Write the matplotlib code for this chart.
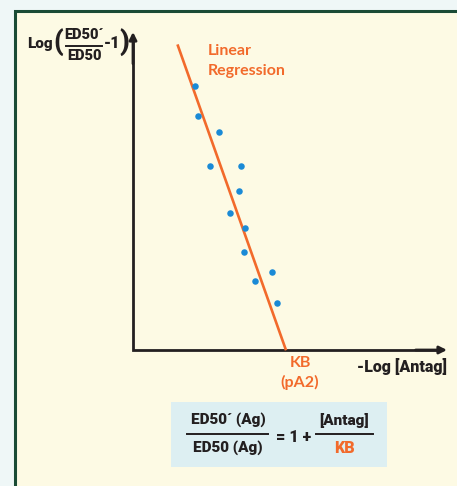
import matplotlib
matplotlib.use("Agg")
import matplotlib.pyplot as plt
from matplotlib.patches import Rectangle
from matplotlib.lines import Line2D

# data (x = -Log[Antag], y = Log(ED50'/ED50 - 1))
pts_x = [1.98, 2.08, 2.74, 2.44, 3.44, 3.39, 3.09, 3.58, 3.53, 4.42, 3.89, 4.58]
pts_y = [8.30, 7.35, 6.86, 5.78, 5.78, 5.00, 4.30, 3.83, 3.08, 2.44, 2.18, 1.48]
fit_x = [1.43, 4.86]
fit_y = [9.57, 0.03]

ORANGE = "#f26a2b"
BLUE = "#1a8ad6"
INK = "#231f20"
NARROW = ["Roboto", "DejaVu Sans"]
W, H = 457, 486

fig = plt.figure(figsize=(W / 100, H / 100), dpi=100, facecolor="#eff7f7")


def px(x, y):
    return x / W, 1 - y / H


# cream panel with green frame
fig.patches.append(Rectangle(px(14.5, 520), 480 / W, 509 / H, transform=fig.transFigure,
                             facecolor="#fdfae4", edgecolor="#1a4b35", lw=2.2, zorder=-5))

l, b = px(133, 350)
ax = fig.add_axes([l, b, (447 - 133) / W, (350 - 32) / H])
ax.set_xlim(0, 10)
ax.set_ylim(0, 10)
ax.axis("off")
ax.set_zorder(2)

# axes as arrows
ax.plot([0, 0, 0.975], [0.975, 0, 0], transform=ax.transAxes, color=INK, lw=2,
        solid_joinstyle="miter", solid_capstyle="butt", clip_on=False)
for tip, tail in [((0, 1), (0, 0.9)), ((1, 0), (0.9, 0))]:
    ax.annotate("", xy=tip, xytext=tail, xycoords="axes fraction",
                arrowprops=dict(arrowstyle="-|>", color=INK, lw=2,
                                mutation_scale=11, shrinkA=0, shrinkB=0))

ax.plot(fit_x, fit_y, color=ORANGE, lw=1.9, clip_on=False)
ax.scatter(pts_x, pts_y, s=22, color=BLUE, zorder=3, linewidths=0)

# y-axis label: Log( ED50' / ED50 - 1 )
kw = dict(family=NARROW, weight="heavy", color=INK)
fig.text(*px(27, 44), "Log", fontsize=11, ha="left", va="center", **kw)
fig.text(*px(53, 42), "(", fontsize=20, ha="left", va="center", **kw)
fig.text(*px(84, 35), "ED50\u00b4", fontsize=10.5, ha="center", va="center", **kw)
fig.text(*px(84, 56), "ED50", fontsize=10.5, ha="center", va="center", **kw)
fig.add_artist(Line2D([66 / W, 102 / W], [1 - 46 / H] * 2, color=INK, lw=1.4))
fig.text(*px(104, 43), "-1", fontsize=11.5, ha="left", va="center", **kw)
fig.text(*px(119, 42), ")", fontsize=20, ha="left", va="center", **kw)

fig.text(*px(357, 366), "-Log [Antag]", fontsize=11.5, ha="left", va="center", **kw)

okw = dict(family=["Lato", "DejaVu Sans"], weight="bold", color=ORANGE, fontsize=11.5)
fig.text(*px(208, 51), "Linear", ha="left", va="center", **okw)
fig.text(*px(208, 71), "Regression", ha="left", va="center", **okw)
fig.text(*px(300, 363), "KB", ha="center", va="center", **okw)
fig.text(*px(300, 382), "(pA2)", ha="center", va="center", **okw)

# formula box
fig.patches.append(Rectangle(px(171, 467), (387 - 171) / W, (467 - 402) / H,
                             transform=fig.transFigure, facecolor="#ddeff2",
                             edgecolor="none", zorder=1))
fig.text(*px(228, 420), "ED50\u00b4 (Ag)", fontsize=11, ha="center", va="center", zorder=2, **kw)
fig.text(*px(228, 448), "ED50 (Ag)", fontsize=11, ha="center", va="center", zorder=2, **kw)
fig.add_artist(Line2D([187 / W, 268 / W], [1 - 434 / H] * 2, color=INK, lw=1.4, zorder=2))
fig.text(*px(294, 437), "= 1 +", fontsize=11.5, ha="center", va="center", zorder=2, **kw)
fig.text(*px(344, 420), "[Antag]", fontsize=11, ha="center", va="center", zorder=2, **kw)
fig.add_artist(Line2D([316 / W, 373 / W], [1 - 434 / H] * 2, color=INK, lw=1.4, zorder=2))
fig.text(*px(344, 448), "KB", fontsize=11.5, ha="center", va="center", zorder=2,
         family=NARROW, weight="heavy", color=ORANGE)

fig.savefig("out.png", dpi=100, facecolor=fig.get_facecolor())
